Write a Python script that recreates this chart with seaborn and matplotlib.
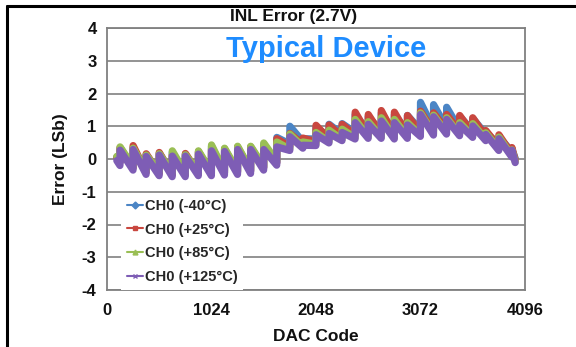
import numpy as np
import pandas as pd
import matplotlib
matplotlib.use("Agg")
import matplotlib.pyplot as plt
from matplotlib.lines import Line2D
import seaborn as sns

# ---------------------------------------------------------------
# data (LSb), sawtooth resets every 128 codes
# ---------------------------------------------------------------
seg_start = [128, 256, 384, 512, 640, 768, 896, 1024, 1152, 1280, 1408,
             1536, 1664, 1792, 1920, 2048, 2176, 2304, 2432, 2560, 2688,
             2816, 2944, 3072, 3200, 3328, 3456, 3584, 3712, 3840, 3968]
first_code = 96
last_code = 4000

names = ['CH0 (-40°C)', 'CH0 (+25°C)', 'CH0 (+85°C)', 'CH0 (+125°C)']
colors = ['#4B85C5', '#C9473F', '#9ABF55', '#7E5DB5']
markers = ['D', 's', '^', 'x']

# value at first code and just before first reset
lead_m40 = [0.05, -0.10]
lead_p25 = [0.05, -0.10]
lead_p85 = [0.08, -0.05]
lead_p125 = [-0.05, -0.20]

# value right after each reset (peak) and at the end of the segment (trough)
peak_m40 = [0.33, 0.35, 0.14, 0.18, 0.21, 0.15, 0.21, 0.39, 0.29, 0.35, 0.35, 0.45,
            0.66, 1.00, 0.62, 0.96, 1.06, 1.08, 1.36, 1.30, 1.41, 1.36, 1.33, 1.73,
            1.66, 1.58, 1.30, 1.24, 0.80, 0.67, 0.28]
end_m40 = [-0.27, -0.40, -0.44, -0.47, -0.47, -0.44, -0.44, -0.42, -0.40, -0.37, -0.27, -0.12,
           0.46, 0.53, 0.61, 0.69, 0.76, 0.81, 0.83, 0.83, 0.81, 0.83, 0.89, 0.93,
           0.96, 0.91, 0.86, 0.76, 0.46, 0.23, 0.02]

peak_p25 = [0.35, 0.41, 0.16, 0.20, 0.13, 0.17, 0.23, 0.31, 0.31, 0.37, 0.37, 0.37,
            0.62, 0.78, 0.64, 1.03, 1.04, 1.06, 1.43, 1.36, 1.48, 1.43, 1.33, 1.46,
            1.41, 1.36, 1.33, 1.26, 0.87, 0.74, 0.35]
end_p25 = [-0.27, -0.40, -0.44, -0.47, -0.47, -0.44, -0.44, -0.42, -0.40, -0.37, -0.27, -0.12,
           0.38, 0.45, 0.53, 0.61, 0.68, 0.73, 0.75, 0.75, 0.73, 0.75, 0.81, 0.85,
           0.88, 0.83, 0.78, 0.68, 0.38, 0.15, -0.03]

peak_p85 = [0.37, 0.33, 0.12, 0.16, 0.25, 0.13, 0.25, 0.43, 0.33, 0.39, 0.39, 0.49,
            0.52, 0.76, 0.52, 0.81, 0.88, 0.91, 1.21, 1.14, 1.26, 1.21, 1.11, 1.41,
            1.34, 1.26, 1.11, 1.08, 0.80, 0.67, 0.28]
end_p85 = [-0.22, -0.35, -0.39, -0.42, -0.42, -0.39, -0.39, -0.37, -0.35, -0.32, -0.22, -0.07,
           0.30, 0.37, 0.45, 0.53, 0.60, 0.65, 0.67, 0.67, 0.65, 0.67, 0.73, 0.77,
           0.80, 0.75, 0.70, 0.60, 0.30, 0.10, -0.08]

peak_p125 = [0.27, 0.29, 0.08, 0.12, 0.09, 0.09, 0.15, 0.25, 0.23, 0.29, 0.29, 0.29,
             0.37, 0.68, 0.42, 0.74, 0.78, 0.81, 1.11, 1.06, 1.16, 1.11, 1.04, 1.36,
             1.29, 1.21, 1.04, 1.01, 0.75, 0.62, 0.27]
end_p125 = [-0.34, -0.47, -0.51, -0.54, -0.54, -0.51, -0.51, -0.49, -0.47, -0.44, -0.34, -0.19,
            0.26, 0.33, 0.41, 0.49, 0.56, 0.61, 0.63, 0.63, 0.61, 0.63, 0.69, 0.73,
            0.76, 0.71, 0.66, 0.56, 0.26, 0.06, -0.11]

x_ticks = [0, 1024, 2048, 3072, 4096]
y_ticks = [-4, -3, -2, -1, 0, 1, 2, 3, 4]

# build long table
rows = []
for name, lead, peaks, ends in zip(names,
                                   [lead_m40, lead_p25, lead_p85, lead_p125],
                                   [peak_m40, peak_p25, peak_p85, peak_p125],
                                   [end_m40, end_p25, end_p85, end_p125]):
    rows.append((name, first_code, lead[0]))
    rows.append((name, seg_start[0] - 1, lead[1]))
    for i, s in enumerate(seg_start):
        e = s + 127 if i < len(seg_start) - 1 else last_code
        rows.append((name, s, peaks[i]))
        rows.append((name, e, ends[i]))
df = pd.DataFrame(rows, columns=['series', 'code', 'err'])

# ---------------------------------------------------------------
# style
# ---------------------------------------------------------------
sns.set_theme(style="white")
plt.rcParams['font.family'] = ['Liberation Sans', 'DejaVu Sans']
plt.rcParams['font.weight'] = 'bold'

fig = plt.figure(figsize=(5.76, 3.47), dpi=100)
ax = fig.add_axes([107 / 576, 1 - 290 / 347, 418 / 576, 262 / 347])

sns.lineplot(data=df, x='code', y='err', hue='series', hue_order=names,
             palette=colors, estimator=None, sort=False, linewidth=5.2,
             solid_joinstyle='round', solid_capstyle='round',
             legend=False, ax=ax, zorder=3)

ax.set_xlim(0, 4096)
ax.set_ylim(-4, 4)
ax.set_xticks(x_ticks)
ax.set_yticks(y_ticks)
ax.set_xticklabels([str(v) for v in x_ticks], fontsize=12, fontweight='bold')
ax.set_yticklabels([str(v) for v in y_ticks], fontsize=12, fontweight='bold')
ax.tick_params(axis='both', which='both', direction='out', length=4.5, width=1.0,
               color='#707070', labelcolor='#111111')
ax.tick_params(axis='x', pad=5)
ax.tick_params(axis='y', pad=3)

ax.yaxis.grid(True, color='#8a8a8a', linewidth=1.3)
ax.xaxis.grid(False)
for side in ['top', 'right', 'left', 'bottom']:
    ax.spines[side].set_visible(True)
    ax.spines[side].set_color('#808080')
    ax.spines[side].set_linewidth(1.3)

ax.set_xlabel('DAC Code', fontsize=12.5, fontweight='bold', labelpad=8, color='#111111')
ax.set_ylabel('Error (LSb)', fontsize=12.5, fontweight='bold', labelpad=10, color='#111111')

fig.text(294 / 576, 1 - 16 / 347, 'INL Error (2.7V)', fontsize=12.5, fontweight='bold',
         ha='center', va='center', color='#111111')
fig.text(326 / 576, 1 - 49 / 347, 'Typical Device', fontsize=21, fontweight='bold',
         ha='center', va='center', color='#1E8CFF')

# legend with small markers on the handles
handles = [Line2D([0], [0], color=c, marker=m, markersize=3.5, linewidth=1.5,
                  markeredgewidth=1.0)
           for c, m in zip(colors, markers)]
leg = ax.legend(handles, names, loc='upper left', bbox_to_anchor=(0.034, 0.37),
                borderaxespad=0, frameon=True, fancybox=False, framealpha=1,
                edgecolor='none', facecolor='white', handlelength=1.1,
                handletextpad=0.1, labelspacing=0.66, borderpad=0.4,
                prop={'size': 10.5, 'weight': 'bold'})
leg.set_zorder(5)

# black frame lines of the original slide (top and left)
fig.add_artist(Line2D([7 / 576, 1], [1 - 5.5 / 347, 1 - 5.5 / 347],
                      transform=fig.transFigure, color='black', linewidth=2.2))
fig.add_artist(Line2D([7 / 576, 7 / 576], [0, 1 - 5.5 / 347],
                      transform=fig.transFigure, color='black', linewidth=2.2))

fig.savefig('out.png', dpi=100, facecolor='white')
